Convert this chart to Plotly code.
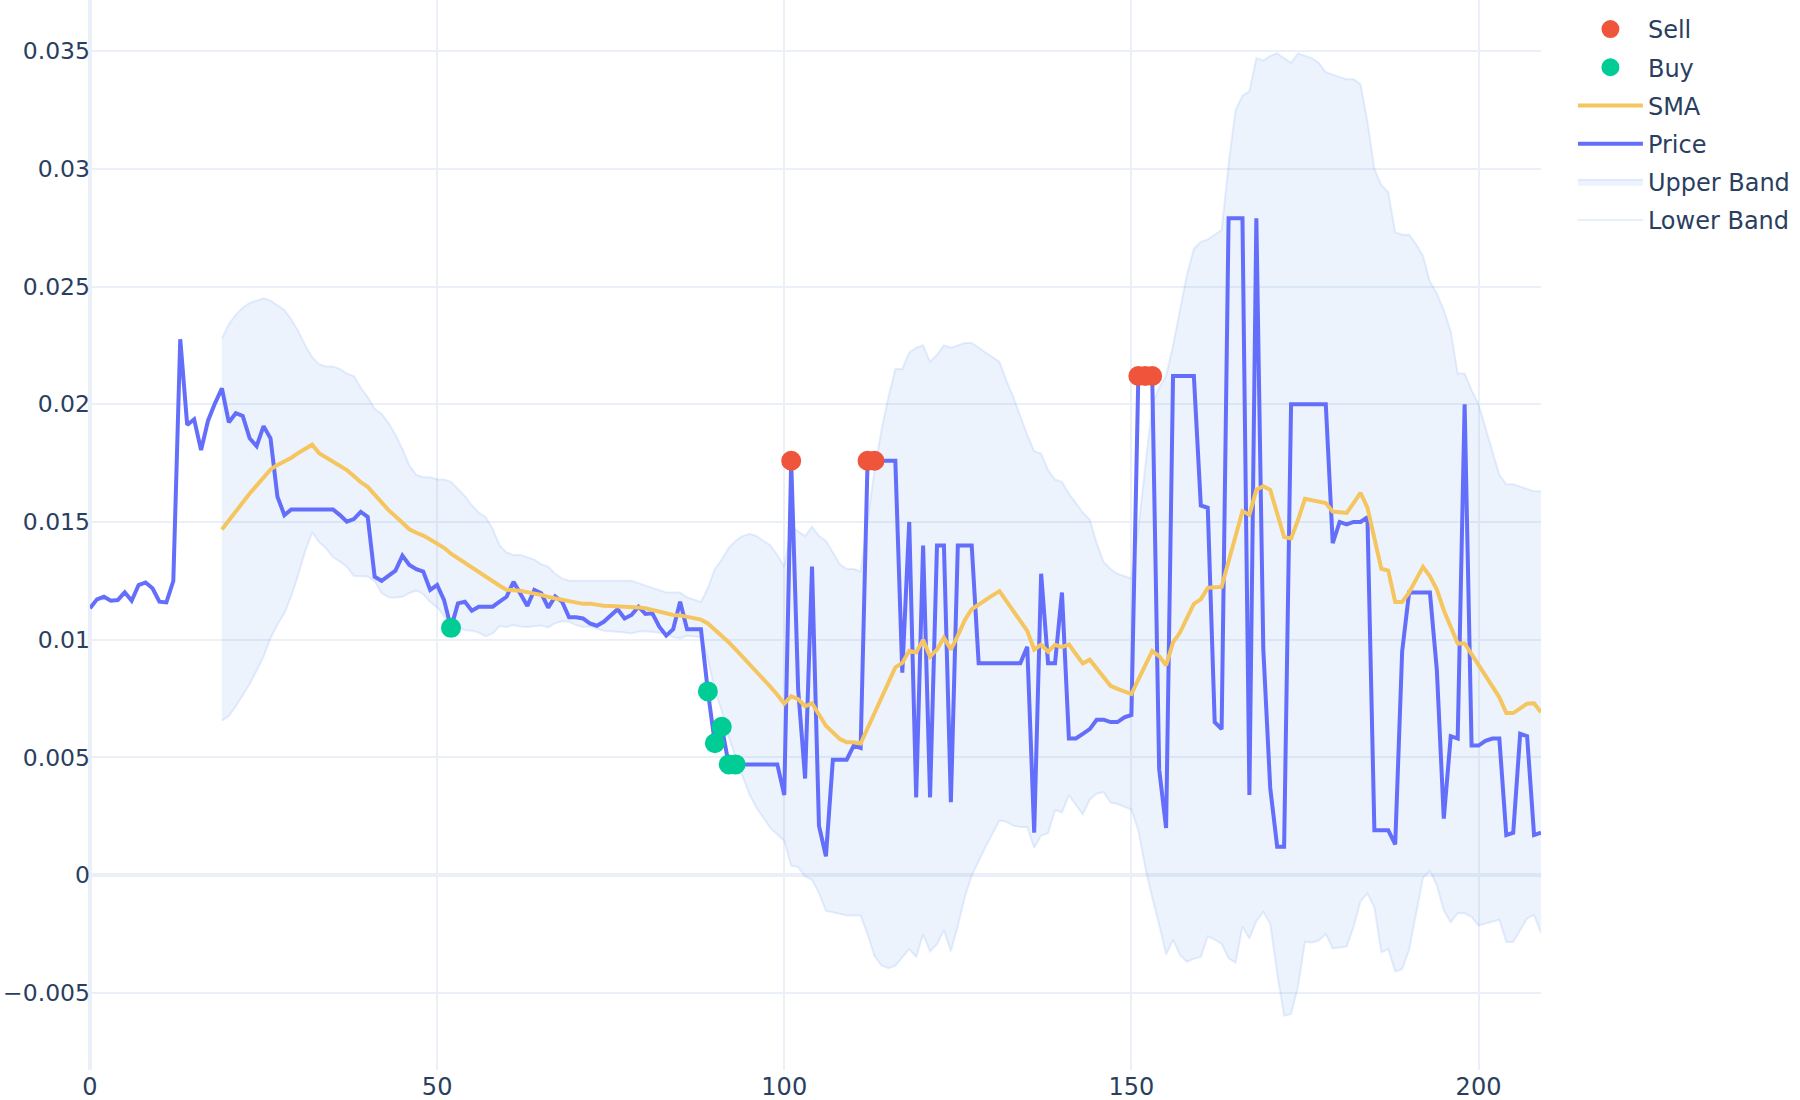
import plotly.graph_objects as go

# ---------------- data ----------------
price = [
    0.01133, 0.01171, 0.01182, 0.01165, 0.01168, 0.01201, 0.01165, 0.01232, 0.01243, 0.01218,
    0.01161, 0.01158, 0.01249, 0.02276, 0.01912, 0.01936, 0.01805, 0.01930, 0.02004, 0.02067,
    0.01923, 0.01962, 0.01950, 0.01855, 0.01822, 0.01907, 0.01855, 0.01607, 0.01529, 0.01553,
    0.01553, 0.01553, 0.01553, 0.01553, 0.01553, 0.01553, 0.01529, 0.01501, 0.01512, 0.01543,
    0.01522, 0.01267, 0.01250, 0.01270, 0.01293, 0.01357, 0.01317, 0.01299, 0.01289, 0.01211,
    0.01232, 0.01168, 0.01050, 0.01154, 0.01161, 0.01123, 0.01140, 0.01140, 0.01140, 0.01161,
    0.01182, 0.01246, 0.01197, 0.01143, 0.01211, 0.01197, 0.01136, 0.01184, 0.01161, 0.01095,
    0.01095, 0.01090, 0.01069, 0.01059, 0.01076, 0.01105, 0.01129, 0.01090, 0.01105, 0.01140,
    0.01109, 0.01112, 0.01055, 0.01017, 0.01044, 0.01161, 0.01044, 0.01044, 0.01044, 0.00780,
    0.00560, 0.00630, 0.00470, 0.00470, 0.00470, 0.00470, 0.00470, 0.00470, 0.00470, 0.00470,
    0.00340, 0.01760, 0.00790, 0.00410, 0.01310, 0.00210, 0.00080, 0.00490, 0.00490, 0.00490,
    0.00550, 0.00540, 0.01760, 0.01760, 0.01760, 0.01760, 0.01760, 0.00860, 0.01500, 0.00330,
    0.01400, 0.00330, 0.01400, 0.01400, 0.00310, 0.01400, 0.01400, 0.01400, 0.00900, 0.00900,
    0.00900, 0.00900, 0.00900, 0.00900, 0.00900, 0.00970, 0.00180, 0.01280, 0.00900, 0.00900,
    0.01200, 0.00580, 0.00580, 0.00600, 0.00620, 0.00660, 0.00660, 0.00650, 0.00650, 0.00670,
    0.00680, 0.02120, 0.02120, 0.02120, 0.00450, 0.00200, 0.02120, 0.02120, 0.02120, 0.02120,
    0.01570, 0.01560, 0.00650, 0.00620, 0.02790, 0.02790, 0.02790, 0.00340, 0.02790, 0.00960,
    0.00370, 0.00120, 0.00120, 0.02000, 0.02000, 0.02000, 0.02000, 0.02000, 0.02000, 0.01410,
    0.01500, 0.01490, 0.01500, 0.01500, 0.01520, 0.00190, 0.00190, 0.00190, 0.00130, 0.00950,
    0.01200, 0.01200, 0.01200, 0.01200, 0.00870, 0.00240, 0.00590, 0.00580, 0.02000, 0.00550,
    0.00550, 0.00570, 0.00580, 0.00580, 0.00170, 0.00180, 0.00600, 0.00590, 0.00170, 0.00180,
]

band_start = 19  # first index of the moving-average series

sma = [
    0.01468, 0.01508, 0.01548, 0.01586, 0.01621, 0.01654, 0.01689, 0.01723, 0.01742, 0.01756,
    0.01773, 0.01793, 0.01813, 0.01828, 0.01792, 0.01774, 0.01755, 0.01741, 0.01720, 0.01695,
    0.01669, 0.01649, 0.01614, 0.01579, 0.01550, 0.01524, 0.01496, 0.01469, 0.01454, 0.01442,
    0.01425, 0.01409, 0.01390, 0.01365, 0.01345, 0.01325, 0.01304, 0.01285, 0.01267, 0.01248,
    0.01229, 0.01212, 0.01211, 0.01208, 0.01202, 0.01198, 0.01190, 0.01181, 0.01175, 0.01169,
    0.01163, 0.01156, 0.01152, 0.01153, 0.01148, 0.01144, 0.01143, 0.01142, 0.01140, 0.01138,
    0.01137, 0.01133, 0.01126, 0.01119, 0.01113, 0.01105, 0.01103, 0.01098, 0.01091, 0.01085,
    0.01069, 0.01042, 0.01019, 0.00989, 0.00959, 0.00928, 0.00896, 0.00863, 0.00832, 0.00800,
    0.00766, 0.00728, 0.00760, 0.00747, 0.00717, 0.00730, 0.00682, 0.00634, 0.00606, 0.00578,
    0.00564, 0.00564, 0.00559, 0.00624, 0.00688, 0.00753, 0.00817, 0.00882, 0.00901, 0.00953,
    0.00946, 0.00999, 0.00928, 0.00958, 0.01008, 0.00958, 0.01017, 0.01083, 0.01129, 0.01150,
    0.01170, 0.01188, 0.01206, 0.01163, 0.01120, 0.01077, 0.01037, 0.00958, 0.00979, 0.00949,
    0.00978, 0.00968, 0.00980, 0.00939, 0.00899, 0.00915, 0.00878, 0.00841, 0.00804, 0.00791,
    0.00780, 0.00769, 0.00830, 0.00891, 0.00952, 0.00930, 0.00891, 0.00988, 0.01030, 0.01091,
    0.01152, 0.01171, 0.01220, 0.01223, 0.01224, 0.01333, 0.01439, 0.01546, 0.01530, 0.01637,
    0.01652, 0.01636, 0.01536, 0.01436, 0.01430, 0.01508, 0.01598, 0.01592, 0.01586, 0.01580,
    0.01544, 0.01541, 0.01538, 0.01580, 0.01624, 0.01561, 0.01431, 0.01301, 0.01293, 0.01160,
    0.01160, 0.01201, 0.01255, 0.01309, 0.01269, 0.01213, 0.01125, 0.01055, 0.00984, 0.00984,
    0.00941, 0.00893, 0.00847, 0.00801, 0.00755, 0.00688, 0.00688, 0.00708, 0.00728, 0.00730,
    0.00692,
]

upper_band = [
    0.0228, 0.0234, 0.0238, 0.0241, 0.0243, 0.0244, 0.0245, 0.0244, 0.0242, 0.0240,
    0.0236, 0.0231, 0.0225, 0.0220, 0.0217, 0.0216, 0.0216, 0.0215, 0.0213, 0.0212,
    0.0207, 0.0203, 0.0198, 0.0196, 0.0192, 0.0187, 0.0181, 0.0174, 0.0170, 0.0169,
    0.0169, 0.0168, 0.0168, 0.0167, 0.0164, 0.0161, 0.0157, 0.0154, 0.0152, 0.0147,
    0.0140, 0.0137, 0.0136, 0.0136, 0.0135, 0.0134, 0.0132, 0.0131, 0.0128, 0.0126,
    0.0125, 0.0125, 0.0125, 0.0125, 0.0125, 0.0125, 0.0125, 0.0125, 0.0125, 0.0125,
    0.0124, 0.0123, 0.0122, 0.0121, 0.0120, 0.0120, 0.0120, 0.0118, 0.0117, 0.0116,
    0.0122, 0.0130, 0.0134, 0.0139, 0.0142, 0.0144, 0.0145, 0.0144, 0.0142, 0.0140,
    0.0136, 0.0131, 0.0148, 0.0146, 0.0144, 0.0148, 0.0144, 0.0142, 0.0137, 0.0132,
    0.0130, 0.0130, 0.0129, 0.0150, 0.0172, 0.0189, 0.0203, 0.0215, 0.0215, 0.0222,
    0.0224, 0.0225, 0.0218, 0.0221, 0.0225, 0.0224, 0.0225, 0.0226, 0.0226, 0.0224,
    0.0222, 0.0220, 0.0218, 0.0210, 0.0203, 0.0195, 0.0187, 0.0180, 0.0179, 0.0172,
    0.0168, 0.0167, 0.0162, 0.0158, 0.0154, 0.0151, 0.0141, 0.0133, 0.0130, 0.0128,
    0.0127, 0.0126, 0.0147, 0.0175, 0.0200, 0.0207, 0.0212, 0.0225, 0.0240, 0.0255,
    0.0266, 0.0269, 0.0270, 0.0272, 0.0274, 0.0302, 0.0325, 0.0331, 0.0333, 0.0347,
    0.0346, 0.0348, 0.0349, 0.0347, 0.0345, 0.0349, 0.0348, 0.0347, 0.0345, 0.0341,
    0.0340, 0.0339, 0.0338, 0.0338, 0.0336, 0.0320, 0.0300, 0.0293, 0.0290, 0.0273,
    0.0272, 0.0272, 0.0268, 0.0263, 0.0252, 0.0247, 0.0240, 0.0231, 0.0213, 0.0213,
    0.0206, 0.0200, 0.0190, 0.0180, 0.0170, 0.0166, 0.0166, 0.0165, 0.0164, 0.0163,
    0.0163,
]

lower_band = [
    0.00656, 0.00676, 0.00716, 0.00762, 0.00812, 0.00868, 0.00928, 0.01006, 0.01064, 0.01112,
    0.01186, 0.01276, 0.01376, 0.01456, 0.01414, 0.01388, 0.01350, 0.01332, 0.01310, 0.01270,
    0.01268, 0.01268, 0.01248, 0.01198, 0.01180, 0.01178, 0.01182, 0.01198, 0.01208, 0.01194,
    0.01160, 0.01138, 0.01100, 0.01060, 0.01050, 0.01040, 0.01038, 0.01030, 0.01014, 0.01026,
    0.01058, 0.01054, 0.01062, 0.01056, 0.01054, 0.01056, 0.01060, 0.01052, 0.01070, 0.01078,
    0.01076, 0.01062, 0.01054, 0.01056, 0.01046, 0.01038, 0.01036, 0.01034, 0.01030, 0.01026,
    0.01034, 0.01036, 0.01032, 0.01028, 0.01026, 0.01010, 0.01006, 0.01016, 0.01012, 0.01010,
    0.00918, 0.00784, 0.00698, 0.00588, 0.00498, 0.00416, 0.00342, 0.00286, 0.00244, 0.00200,
    0.00172, 0.00146, 0.00040, 0.00034, -0.00006, -0.00020, -0.00076, -0.00152, -0.00158, -0.00164,
    -0.00172, -0.00172, -0.00172, -0.00252, -0.00344, -0.00384, -0.00396, -0.00386, -0.00348, -0.00314,
    -0.00348, -0.00252, -0.00324, -0.00294, -0.00234, -0.00324, -0.00216, -0.00094, -0.00002, 0.00060,
    0.00120, 0.00176, 0.00232, 0.00226, 0.00210, 0.00204, 0.00204, 0.00116, 0.00168, 0.00178,
    0.00276, 0.00266, 0.00340, 0.00298, 0.00258, 0.00320, 0.00346, 0.00352, 0.00308, 0.00302,
    0.00290, 0.00278, 0.00190, 0.00032, -0.00096, -0.00210, -0.00338, -0.00274, -0.00340, -0.00368,
    -0.00356, -0.00348, -0.00260, -0.00274, -0.00292, -0.00354, -0.00372, -0.00218, -0.00270, -0.00196,
    -0.00156, -0.00208, -0.00418, -0.00598, -0.00590, -0.00474, -0.00284, -0.00286, -0.00278, -0.00250,
    -0.00312, -0.00308, -0.00304, -0.00220, -0.00112, -0.00078, -0.00138, -0.00328, -0.00314, -0.00410,
    -0.00400, -0.00318, -0.00170, -0.00012, 0.00018, -0.00044, -0.00150, -0.00200, -0.00162, -0.00162,
    -0.00178, -0.00214, -0.00206, -0.00198, -0.00190, -0.00284, -0.00284, -0.00234, -0.00184, -0.00170,
    -0.00246,
]

sell_idx = [101, 112, 113, 151, 152, 153]
buy_idx = [52, 89, 90, 91, 92, 93]

# ---------------- figure ----------------
x_price = list(range(len(price)))
x_band = list(range(band_start, band_start + len(sma)))

band_line = "rgba(68,134,240,0.13)"

fig = go.Figure()

fig.add_trace(go.Scatter(
    x=x_band, y=lower_band, mode="lines", name="Lower Band", legendgroup="g1", legendrank=6,
    line=dict(color=band_line, width=2),
))
fig.add_trace(go.Scatter(
    x=x_band, y=upper_band, mode="lines", name="Upper Band", legendgroup="g2", legendrank=5,
    line=dict(color=band_line, width=2),
    fill="tonexty", fillcolor="rgba(68,134,240,0.1)",
))
fig.add_trace(go.Scatter(
    x=x_price, y=price, mode="lines", name="Price", legendgroup="g3", legendrank=4,
    line=dict(color="#636EFA", width=4),
))
fig.add_trace(go.Scatter(
    x=x_band, y=sma, mode="lines", name="SMA", legendgroup="g4", legendrank=3,
    line=dict(color="#F5C560", width=4),
))
fig.add_trace(go.Scatter(
    x=buy_idx, y=[price[i] for i in buy_idx], mode="markers", name="Buy",
    legendgroup="g5", legendrank=2,
    marker=dict(color="#00CC96", size=18, line=dict(color="#00CC96", width=2)),
))
fig.add_trace(go.Scatter(
    x=sell_idx, y=[price[i] for i in sell_idx], mode="markers", name="Sell",
    legendgroup="g6", legendrank=1,
    marker=dict(color="#EF553B", size=18, line=dict(color="#EF553B", width=2)),
))

fig.update_layout(
    template="plotly_white",
    width=1800,
    height=1100,
    margin=dict(l=89.5, r=259, t=0, b=30, autoexpand=False),
    font=dict(family="DejaVu Sans", size=24, color="#2a3f5f"),
    legend=dict(traceorder="grouped", tracegroupgap=4, itemwidth=65,
                x=1.022, y=0.9935,
                font=dict(family="DejaVu Sans", size=24)),
    showlegend=True,
)
fig.update_xaxes(range=[0, 209], dtick=50, gridwidth=2, zerolinewidth=4, automargin=False)
fig.update_yaxes(range=[-0.00828, 0.03717], dtick=0.005, gridwidth=2, zerolinewidth=4,
                 automargin=False, ticklabelstandoff=-1,
                 tickfont=dict(family="DejaVu Sans", size=23.5))

# the page is shown edge to edge, like the reference image
fig.write_html(
    "out.html",
    config={"displayModeBar": False},
    post_script="document.body.style.margin='0px';",
)
